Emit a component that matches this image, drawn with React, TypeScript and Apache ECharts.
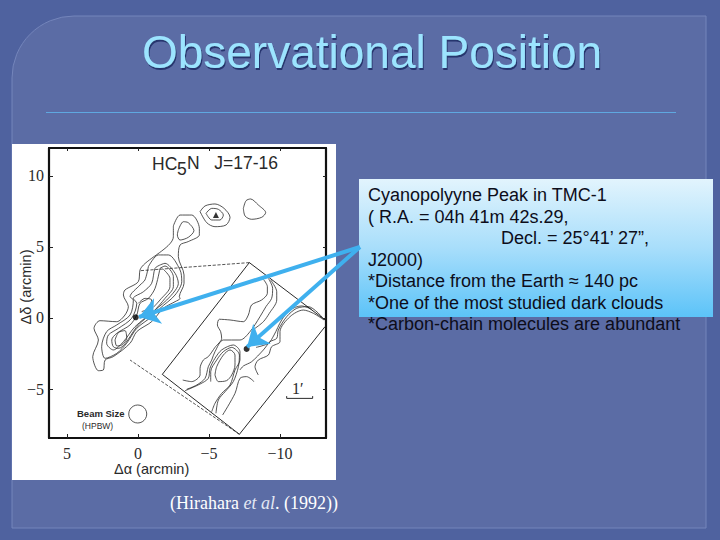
import React, { useEffect, useRef } from "react";
import * as echarts from "echarts";

type P = [number, number];
const xTicks = [5, 0, -5, -10];
const yTicks = [10, 5, 0, -5];
const outerRidge: P[] = [[-2.49,6.48],[-2.96,7.25],[-3.78,7.25],[-4.32,6.31],[-4.32,5.85],[-3.54,5.38],[-2.96,5.14],[-2.84,4.32],[-3.24,3.03],[-3.24,2.44],[-2.91,1.5],[-2.96,1.38],[-2.61,1.15],[-1.78,0.68],[-0.96,-0.26],[0.09,-0.96],[0.56,-1.78],[1.74,-2.72],[2.32,-2.96],[2.44,-3.66],[2.79,-3.71],[3.19,-2.72],[2.79,-1.55],[3.1,-0.73],[2.68,-0.19],[1.5,-0.26],[0.92,0.21],[0.68,0.8],[1.03,1.62],[0.92,1.97],[-0.02,2.56],[-0.14,3.38],[-0.38,3.73],[-2.49,5.73],[-2.49,6.48]];
const secondPeak: P[] = [[-2.84,6.2],[-3.19,6.78],[-3.54,6.71],[-3.94,6.15],[-3.54,5.68],[-2.96,5.49],[-2.77,5.85],[-2.84,6.2]];
const ridgeB: P[] = [[-0.73,3.62],[-1.43,4.44],[-2.14,4.44],[-2.96,3.38],[-3.08,2.56],[-2.61,1.62],[-1.55,0.68],[-0.96,0.09],[0.09,-0.73],[0.8,-1.78],[1.5,-2.49],[2.32,-2.84],[2.56,-2.02],[2.21,-0.96],[1.5,-0.49],[0.56,0.21],[0.33,1.27],[0.56,1.5],[-0.14,2.32],[-0.49,2.68],[-0.73,3.62]];
const ridgeC: P[] = [[-1.55,3.73],[-1.9,3.85],[-2.61,3.15],[-2.84,2.44],[-2.25,1.5],[-1.2,0.56],[0.21,-0.61],[1.03,-1.67],[1.74,-2.25],[2.21,-1.78],[2.09,-1.2],[1.38,-0.73],[0.45,-0.02],[0.09,1.03],[0.33,1.38],[-0.38,1.85],[-0.96,2.44],[-1.2,3.5],[-1.55,3.73]];
const ridgeD: P[] = [[-1.55,3.5],[-1.9,3.66],[-2.49,2.91],[-2.49,2.21],[-1.9,1.38],[-1.08,0.45],[-0.02,-0.49],[1.38,-2.14],[1.74,-2.02],[1.85,-1.55],[1.5,-1.08],[0.56,-0.49],[0.09,0.21],[-0.14,1.03],[-0.73,1.38],[-1.2,2.09],[-1.55,3.5]];
const ridgeE: P[] = [[-1.78,3.43],[-2.25,2.79],[-2.25,2.21],[-1.55,1.27],[-1.08,0.75]];
const ridgeSmall: P[] = [[-0.02,1.03],[-0.49,1.38],[-0.96,1.27],[-0.73,0.68],[-0.26,0.45]];
const leftBlob: P[] = [[1.62,-1.55],[1.38,-1.03],[0.92,-0.89],[0.8,-1.43],[1.15,-1.9],[1.5,-1.97],[1.62,-1.55]];
const isolated: P[] = [[-7.42,7.72],[-7.61,8.26],[-7.93,8.38],[-8.47,7.96],[-8.99,7.42],[-8.71,7.09],[-8.0,6.95],[-7.54,7.18],[-7.42,7.72]];
const tmcOuter: P[] = [[-4.37,7.49],[-4.72,7.89],[-5.42,8.03],[-6.06,7.72],[-6.48,7.09],[-6.2,6.55],[-5.42,6.43],[-4.84,6.71],[-4.37,7.49]];
const tmcInner: P[] = [[-4.79,7.37],[-5.19,7.72],[-5.66,7.65],[-6.01,7.25],[-5.77,6.9],[-5.19,6.9],[-4.79,7.37]];
const boxA: P[] = [[-8.83,2.72],[-9.11,2.21],[-9.11,1.74],[-8.71,1.27],[-8.0,0.92],[-7.77,0.21],[-7.42,-0.26],[-6.48,-0.14],[-5.73,-0.09],[-5.59,-0.49],[-5.82,-0.96],[-5.89,-1.43],[-5.42,-2.07],[-4.95,-2.72],[-4.6,-2.96],[-4.37,-3.54],[-4.37,-4.01],[-3.78,-4.48],[-3.15,-4.37]];
const boxB: P[] = [[-9.18,2.79],[-9.48,2.09],[-9.41,1.38],[-9.01,0.8],[-8.59,0.09],[-7.89,-0.96],[-7.18,-1.55],[-6.01,-1.55],[-5.42,-2.37],[-5.19,-2.96],[-4.95,-3.43],[-4.72,-4.25],[-4.13,-4.72],[-3.43,-5.02]];
const boxC: P[] = [[-9.34,2.68],[-9.77,1.85],[-9.77,1.27],[-9.25,0.33],[-8.83,-0.26],[-8.24,-0.73]];
const boxD: P[] = [[-3.31,-5.12],[-4.37,-4.65],[-4.95,-4.25],[-5.07,-3.54],[-5.42,-2.84],[-5.89,-2.25],[-6.71,-1.9],[-7.18,-2.37],[-7.18,-2.96],[-6.83,-3.66],[-6.48,-4.72],[-5.89,-5.31],[-5.42,-6.01],[-5.19,-6.6]];
const boxPeak: P[] = [[-5.42,-4.01],[-5.54,-3.43],[-6.01,-2.61],[-6.48,-2.25],[-6.83,-2.61],[-6.83,-3.31],[-6.6,-4.01],[-6.24,-4.41],[-5.66,-4.48],[-5.42,-4.01]];
const boxE: P[] = [[-5.12,-4.48],[-5.12,-3.78],[-5.54,-2.96],[-6.01,-2.37],[-6.6,-2.07],[-7.14,-2.61],[-7.07,-3.43],[-6.71,-4.48],[-6.13,-5.19],[-5.66,-5.77],[-5.49,-6.71]];
const boxF: P[] = [[-5.96,-6.83],[-6.83,-5.31],[-7.18,-4.25],[-7.65,-4.13],[-8.17,-4.48]];
const boxG: P[] = [[-8.47,-4.01],[-8.24,-3.43],[-8.47,-2.96],[-9.18,-2.61],[-9.41,-2.02],[-10.0,-1.67],[-10.0,-0.96],[-10.7,0.09],[-11.64,0.56],[-12.35,0.33],[-13.1,-0.14]];
const boxH: P[] = [[-7.18,-3.66],[-7.42,-3.38],[-8.0,-3.08],[-8.83,-2.25],[-9.3,-1.67],[-9.77,-1.43],[-9.88,-0.85],[-10.47,0.09],[-11.17,0.68],[-11.99,0.8],[-13.1,-0.09]];
const boxI: P[] = [[-8.31,-2.07],[-9.18,-1.78],[-9.58,-1.2],[-10.12,-0.14],[-10.7,0.56],[-11.52,0.85],[-12.23,0.61]];
const contours = [outerRidge, secondPeak, ridgeB, ridgeC, ridgeD, ridgeE, ridgeSmall, leftBlob, isolated, tmcOuter, tmcInner, boxA, boxB, boxC, boxD, boxPeak, boxE, boxF, boxG, boxH, boxI];
const mapRect: P[] = [[-13.17,-0.14],[-7.84,3.9],[-1.71,-3.97],[-7.14,-8.19],[-13.17,-0.61]];
const dashedA: P[] = [[-7.84,3.9],[-0.14,3.33]];
const dashedB: P[] = [[-7.14,-8.19],[0.56,-2.96]];
const scaleBar: P[] = [[-10.47,-5.5],[-10.47,-5.66],[-12.3,-5.66],[-12.3,-5.5]];
const dots: P[] = [[0.16,0.05],[-7.65,-2.18]];
const triangle: P[] = [[-5.49,7.25]];
const beam: P[] = [[0.02,-6.76]];
const arrowStart: P = [-15.63,5.0];
const arrowTips: P[] = [[-0.07,0.07],[-7.68,-2.04]];
const boxLines: [string, number, number][] = [
  ["Cyanopolyyne Peak in TMC-1", 368, 195],
  ["( R.A. = 04h 41m 42s.29,", 368, 217],
  ["Decl. = 25°41’ 27”,", 501, 238],
  ["J2000)", 368, 260],
  ["*Distance from the Earth ≈ 140 pc", 368, 281],
  ["*One of the most studied dark clouds", 368, 303],
  ["*Carbon-chain molecules are abundant", 368, 324],
];

const ink = "#2a2a2a";
const sans = "'Liberation Sans', Arial, sans-serif";
const serif = "'Liberation Serif', 'Times New Roman', serif";

function txt(text: string, x: number, y: number, fontSize: number, extra: any = {}, fontFamily = sans) {
  return { type: "text", x, y, z: 20, style: { text, fontSize, fontFamily, fill: ink, textVerticalAlign: "middle", ...extra.style } };
}

export default function App() {
  const ref = useRef<HTMLDivElement>(null);
  useEffect(() => {
    const chart = echarts.init(ref.current!, undefined, { renderer: "svg" });
    const baseAxis = { axisLine: { show: true, onZero: false, lineStyle: { color: "#111", width: 2.2 } }, splitLine: { show: false } };
    const labelFmt = (v: number) => String(v).replace("-", "−");
    const lineBase = { type: "line", xAxisIndex: 0, yAxisIndex: 0, symbol: "none", z: 4, animation: false };
    chart.setOption({
      animation: false,
      backgroundColor: "#4f629f",
      grid: { left: 49, right: 394, top: 148, bottom: 102 },
      xAxis: [
        { ...baseAxis, type: "value", inverse: true, min: -13.24, max: 6.27, position: "bottom", z: 5,
          axisTick: { inside: true, length: 4, customValues: xTicks, lineStyle: { color: "#222" } },
          axisLabel: { customValues: xTicks, formatter: labelFmt, margin: 7, fontFamily: serif, fontSize: 16, color: ink } },
        { ...baseAxis, type: "value", inverse: true, min: -13.24, max: 6.27, position: "top", z: 5,
          axisTick: { inside: true, length: 3, customValues: xTicks, lineStyle: { color: "#222" } }, axisLabel: { show: false } },
      ],
      yAxis: [
        { ...baseAxis, type: "value", min: -8.45, max: 11.97, position: "left", z: 5,
          axisTick: { inside: true, length: 4, customValues: yTicks, lineStyle: { color: "#222" } },
          axisLabel: { customValues: yTicks, formatter: labelFmt, margin: 5, fontFamily: serif, fontSize: 16, color: ink } },
        { ...baseAxis, type: "value", min: -8.45, max: 11.97, position: "right", z: 5,
          axisTick: { inside: true, length: 3, customValues: yTicks, lineStyle: { color: "#222" } }, axisLabel: { show: false } },
      ],
      graphic: [
        { type: "rect", z: -10, shape: { x: 12, y: 16, width: 694, height: 512, r: [62, 0, 0, 0] }, style: { fill: "#5b6ca5", stroke: "#7485bb", lineWidth: 1 } },
        { type: "line", z: -9, shape: { x1: 46, y1: 112.5, x2: 676, y2: 112.5 }, style: { stroke: "#5fa8e0", lineWidth: 1.2 } },
        { type: "rect", z: -9, shape: { x: 12, y: 144, width: 324, height: 336 }, style: { fill: "#ffffff" } },
        { type: "rect", z: -8, shape: { x: 359, y: 179, width: 354, height: 138 }, style: {
          fill: { type: "linear", x: 0, y: 0, x2: 0, y2: 1, colorStops: [{ offset: 0, color: "#e2f4fd" }, { offset: 0.5, color: "#a8defb" }, { offset: 1, color: "#5cc3f8" }] } } },
        txt("Observational Position", 372, 52, 46, { style: { fill: "#9ce4ff", textAlign: "center", textShadowColor: "#26346e", textShadowBlur: 1, textShadowOffsetX: 1, textShadowOffsetY: 2 } }),
        ...boxLines.map(([t, x, y]) => txt(t, x, y, 18, { style: { fill: "#0d0d1a" } })),
        txt("HC", 152, 164, 17.5),
        txt("5", 177, 169, 17.5),
        txt("N   J=17-16", 187, 163, 17.5),
        txt("1′", 292, 388, 16, {}, serif),
        txt("Beam Size", 77, 413, 9.5, { style: { fontWeight: "bold" } }),
        txt("(HPBW)", 82, 426, 8.5),
        txt("Δα (arcmin)", 114, 469, 14.5),
        { ...txt("Δδ (arcmin)", 26, 287, 14.5, { style: { textAlign: "center" } }), rotation: Math.PI / 2 },
        { type: "text", x: 170, y: 503, z: 20, style: {
          text: "{n|(Hirahara }{i|et al}{n|. (1992))}", fill: "#fff", textVerticalAlign: "middle",
          rich: { n: { fontFamily: serif, fontSize: 18, fill: "#fff" }, i: { fontFamily: serif, fontSize: 18, fontStyle: "italic", fill: "#e4e8f4" } } } },
      ],
      series: [
        ...contours.map((c) => ({ ...lineBase, data: c, smooth: 0.3, lineStyle: { color: ink, width: 0.8 } })),
        { ...lineBase, data: mapRect, lineStyle: { color: "#111", width: 0.9 } },
        { ...lineBase, data: dashedA, lineStyle: { color: ink, width: 0.8, type: "dashed" } },
        { ...lineBase, data: dashedB, lineStyle: { color: ink, width: 0.8, type: "dashed" } },
        { ...lineBase, data: scaleBar, lineStyle: { color: ink, width: 1 } },
        { type: "scatter", data: dots, symbol: "circle", symbolSize: 6, itemStyle: { color: "#000" }, z: 6 },
        { type: "scatter", data: triangle, symbol: "triangle", symbolSize: 6, itemStyle: { color: "#000" }, z: 6 },
        { type: "scatter", data: beam, symbol: "circle", symbolSize: 18, itemStyle: { color: "transparent", borderColor: ink, borderWidth: 1 }, z: 6 },
        { type: "lines", coordinateSystem: "cartesian2d", clip: false, z: 8, symbol: ["none", "arrow"], symbolSize: 20,
          lineStyle: { color: "#3fb0ee", width: 4, opacity: 1, curveness: 0 },
          data: arrowTips.map((t) => ({ coords: [arrowStart, t] })) },
      ],
    });
    return () => chart.dispose();
  }, []);
  return <div ref={ref} style={{ position: "fixed", left: 0, top: 0, width: 720, height: 540 }} />;
}
